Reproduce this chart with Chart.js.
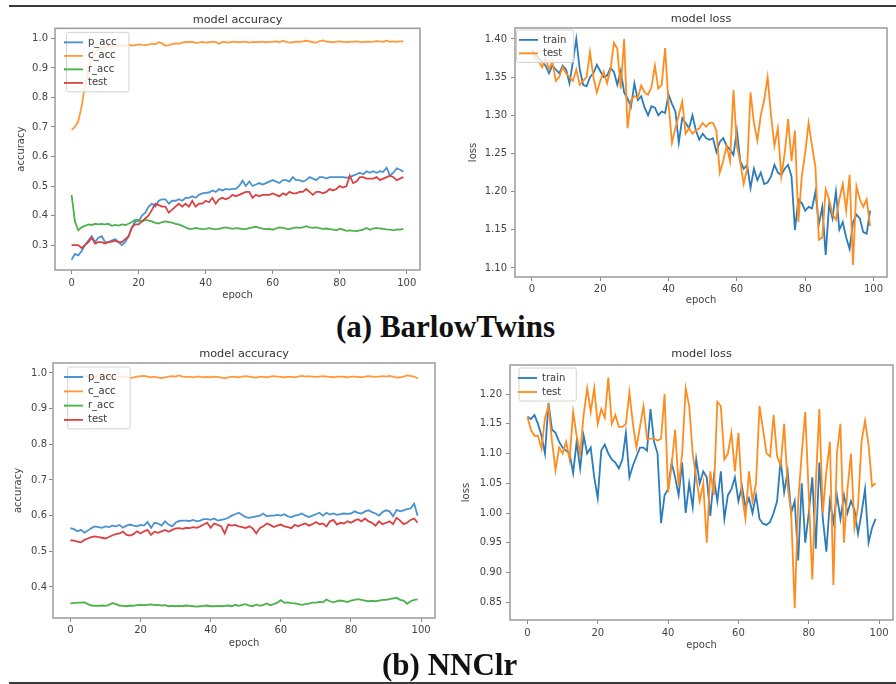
<!DOCTYPE html>
<html>
<head>
<meta charset="utf-8">
<script src="https://cdn.jsdelivr.net/npm/chart.js@4.4.1/dist/chart.umd.min.js"></script>
<style>
  body { margin: 0; background: #fff; }
  #page { position: relative; width: 896px; height: 684px; overflow: hidden; background: #fff; }
  canvas { position: absolute; }
  .rule { position: absolute; left: 9px; right: 0; height: 2px; background: #3a3a3a; }
  .caption { position: absolute; font-family: "Liberation Serif", "Times New Roman", serif; font-weight: bold;
             font-size: 31px; line-height: 31px; color: #111; white-space: nowrap; }
</style>
</head>
<body>
<div id="page">
  <div class="rule" style="top:5px"></div>
  <canvas id="btAcc" width="440" height="300" style="left:0;top:8px"></canvas>
  <canvas id="btLoss" width="446" height="300" style="left:450px;top:8px"></canvas>
  <div class="caption" style="left:336px;top:311px">(a) BarlowTwins</div>
  <canvas id="nnAcc" width="448" height="310" style="left:0;top:343px"></canvas>
  <canvas id="nnLoss" width="446" height="310" style="left:450px;top:345px"></canvas>
  <div class="caption" style="left:382px;top:649px">(b) NNClr</div>
  <div class="rule" style="top:682px"></div>
</div>
<script>
// epochs 0..99 and tick labels
var epochs = Array.from({length: 100}, function(_, i) { return i; });
var epochTicks = ['0', '20', '40', '60', '80', '100'];
var btAccTicks = ['0.3', '0.4', '0.5', '0.6', '0.7', '0.8', '0.9', '1.0'];
var btLossTicks = ['1.10', '1.15', '1.20', '1.25', '1.30', '1.35', '1.40'];
var nnAccTicks = ['0.4', '0.5', '0.6', '0.7', '0.8', '0.9', '1.0'];
var nnLossTicks = ['0.85', '0.90', '0.95', '1.00', '1.05', '1.10', '1.15', '1.20'];

// (a) BarlowTwins - accuracy
var btPAcc = [
  0.25, 0.27, 0.265, 0.28, 0.30, 0.315, 0.33, 0.31, 0.325, 0.33,
  0.31, 0.31, 0.315, 0.32, 0.31, 0.30, 0.31, 0.33, 0.36, 0.38,
  0.38, 0.40, 0.41, 0.43, 0.44, 0.43, 0.45, 0.455, 0.455, 0.44,
  0.45, 0.45, 0.455, 0.45, 0.46, 0.46, 0.465, 0.46, 0.47, 0.475,
  0.477, 0.478, 0.485, 0.48, 0.49, 0.485, 0.49, 0.488, 0.49, 0.49,
  0.50, 0.518, 0.50, 0.515, 0.50, 0.505, 0.51, 0.505, 0.51, 0.515,
  0.52, 0.515, 0.51, 0.52, 0.52, 0.515, 0.53, 0.52, 0.52, 0.515,
  0.52, 0.53, 0.525, 0.52, 0.53, 0.53, 0.525, 0.53, 0.53, 0.53,
  0.53, 0.53, 0.528, 0.53, 0.535, 0.54, 0.545, 0.54, 0.55, 0.545,
  0.55, 0.545, 0.55, 0.548, 0.562, 0.535, 0.545, 0.56, 0.555, 0.548
];
var btCAcc = [
  0.69, 0.70, 0.72, 0.77, 0.84, 0.89, 0.93, 0.95, 0.962, 0.968,
  0.972, 0.975, 0.973, 0.976, 0.975, 0.977, 0.975, 0.978, 0.976, 0.977,
  0.980, 0.978, 0.977, 0.979, 0.982, 0.980, 0.987, 0.983, 0.975, 0.977,
  0.981, 0.983, 0.982, 0.986, 0.988, 0.987, 0.989, 0.985, 0.986, 0.988,
  0.986, 0.987, 0.989, 0.987, 0.982, 0.988, 0.987, 0.986, 0.989, 0.988,
  0.987, 0.988, 0.989, 0.986, 0.988, 0.987, 0.988, 0.989, 0.987, 0.988,
  0.988, 0.990, 0.987, 0.992, 0.988, 0.986, 0.987, 0.989, 0.988, 0.990,
  0.992, 0.990, 0.987, 0.986, 0.991, 0.993, 0.989, 0.988, 0.987, 0.989,
  0.990, 0.988, 0.987, 0.988, 0.989, 0.990, 0.988, 0.987, 0.989, 0.988,
  0.989, 0.991, 0.990, 0.988, 0.993, 0.988, 0.990, 0.988, 0.990, 0.990
];
var btRAcc = [
  0.47, 0.38, 0.35, 0.36, 0.365, 0.37, 0.368, 0.372, 0.37, 0.372,
  0.37, 0.372, 0.365, 0.368, 0.366, 0.37, 0.368, 0.372, 0.378, 0.385,
  0.385, 0.38, 0.385, 0.383, 0.38, 0.375, 0.373, 0.378, 0.38, 0.378,
  0.376, 0.372, 0.37, 0.365, 0.36, 0.355, 0.355, 0.358, 0.356, 0.354,
  0.355, 0.357, 0.355, 0.353, 0.355, 0.358, 0.36, 0.357, 0.355, 0.357,
  0.356, 0.355, 0.354, 0.357, 0.36, 0.362, 0.358, 0.356, 0.354, 0.355,
  0.352, 0.356, 0.36, 0.358, 0.356, 0.354, 0.357, 0.36, 0.358, 0.36,
  0.364, 0.36, 0.358, 0.36, 0.357, 0.355, 0.356, 0.354, 0.352, 0.35,
  0.355, 0.352, 0.348, 0.35, 0.348, 0.347, 0.35, 0.352, 0.358, 0.352,
  0.356, 0.358, 0.356, 0.355, 0.353, 0.352, 0.35, 0.353, 0.352, 0.355
];
var btTestAcc = [
  0.30, 0.30, 0.30, 0.29, 0.30, 0.31, 0.325, 0.305, 0.31, 0.31,
  0.305, 0.31, 0.312, 0.315, 0.31, 0.31, 0.32, 0.33, 0.36, 0.37,
  0.37, 0.38, 0.39, 0.40, 0.42, 0.44, 0.435, 0.43, 0.43, 0.41,
  0.42, 0.43, 0.44, 0.43, 0.44, 0.43, 0.45, 0.43, 0.44, 0.44,
  0.45, 0.445, 0.46, 0.44, 0.455, 0.46, 0.455, 0.46, 0.47, 0.465,
  0.47, 0.475, 0.48, 0.48, 0.46, 0.47, 0.465, 0.47, 0.47, 0.47,
  0.475, 0.47, 0.465, 0.475, 0.47, 0.48, 0.475, 0.475, 0.48, 0.48,
  0.49, 0.48, 0.47, 0.48, 0.48, 0.475, 0.48, 0.49, 0.485, 0.49,
  0.50, 0.495, 0.50, 0.535, 0.51, 0.515, 0.53, 0.53, 0.525, 0.525,
  0.525, 0.53, 0.52, 0.525, 0.53, 0.535, 0.53, 0.52, 0.525, 0.53
];

// (a) BarlowTwins - loss
var btTrainLoss = [
  1.385, 1.38, 1.375, 1.37, 1.365, 1.355, 1.365, 1.36, 1.355, 1.365,
  1.36, 1.342, 1.37, 1.40, 1.36, 1.34, 1.338, 1.35, 1.355, 1.366,
  1.358, 1.35, 1.352, 1.362, 1.357, 1.34, 1.358, 1.33, 1.322, 1.311,
  1.342, 1.32, 1.325, 1.31, 1.30, 1.312, 1.31, 1.30, 1.305, 1.303,
  1.327, 1.315, 1.305, 1.264, 1.296, 1.29, 1.283, 1.30, 1.28, 1.268,
  1.276, 1.27, 1.268, 1.27, 1.252, 1.265, 1.27, 1.26, 1.255, 1.248,
  1.28, 1.24, 1.23, 1.235, 1.205, 1.23, 1.215, 1.225, 1.21, 1.212,
  1.22, 1.235, 1.225, 1.222, 1.23, 1.235, 1.22, 1.15, 1.19, 1.185,
  1.175, 1.18, 1.178, 1.20, 1.157, 1.18, 1.117, 1.183, 1.165, 1.20,
  1.15, 1.16, 1.14, 1.125, 1.16, 1.17, 1.165, 1.147, 1.145, 1.175
];
var btTestLoss = [
  1.38, 1.375, 1.37, 1.363, 1.375, 1.36, 1.37, 1.345, 1.35, 1.363,
  1.355, 1.35, 1.345, 1.36, 1.34, 1.345, 1.35, 1.383, 1.35, 1.33,
  1.345, 1.357, 1.342, 1.36, 1.395, 1.387, 1.335, 1.40, 1.283, 1.32,
  1.325, 1.323, 1.339, 1.33, 1.327, 1.337, 1.365, 1.335, 1.34, 1.388,
  1.315, 1.264, 1.283, 1.30, 1.318, 1.276, 1.283, 1.276, 1.28, 1.283,
  1.29, 1.285, 1.29, 1.29, 1.28, 1.225, 1.24, 1.26, 1.24, 1.333,
  1.26, 1.238, 1.21, 1.23, 1.33, 1.29, 1.267, 1.30, 1.32, 1.35,
  1.30, 1.26, 1.283, 1.22, 1.25, 1.295, 1.24, 1.28, 1.16, 1.22,
  1.25, 1.29, 1.26, 1.232, 1.137, 1.14, 1.203, 1.19, 1.17, 1.163,
  1.19, 1.21, 1.175, 1.222, 1.104, 1.207, 1.19, 1.18, 1.19, 1.155
];

// (b) NNClr - accuracy
var nnPAcc = [
  0.565, 0.562, 0.556, 0.56, 0.552, 0.558, 0.565, 0.57, 0.568, 0.566,
  0.57, 0.568, 0.572, 0.57, 0.574, 0.566, 0.572, 0.575, 0.572, 0.57,
  0.574, 0.572, 0.582, 0.566, 0.58, 0.578, 0.572, 0.584, 0.575, 0.57,
  0.58, 0.585, 0.586, 0.586, 0.585, 0.588, 0.584, 0.586, 0.59, 0.59,
  0.588, 0.592, 0.586, 0.588, 0.59, 0.594, 0.6, 0.604, 0.608, 0.602,
  0.596, 0.594, 0.596, 0.598, 0.6, 0.606, 0.598, 0.6, 0.6, 0.602,
  0.6, 0.604, 0.598, 0.596, 0.6, 0.602, 0.606, 0.6, 0.596, 0.6,
  0.604, 0.608, 0.6, 0.608, 0.603, 0.606, 0.602, 0.604, 0.606, 0.605,
  0.606, 0.612, 0.608, 0.606, 0.612, 0.615, 0.61, 0.606, 0.6, 0.61,
  0.615, 0.612, 0.598, 0.616, 0.612, 0.615, 0.618, 0.62, 0.634, 0.6
];
var nnCAcc = [
  0.99, 0.99, 0.988, 0.99, 0.992, 0.99, 0.989, 0.99, 0.991, 0.99,
  0.989, 0.99, 0.991, 0.99, 0.988, 0.99, 0.99, 0.986, 0.988, 0.99,
  0.991, 0.992, 0.99, 0.988, 0.99, 0.987, 0.986, 0.988, 0.99, 0.991,
  0.99, 0.993, 0.99, 0.989, 0.99, 0.988, 0.99, 0.99, 0.988, 0.989,
  0.988, 0.99, 0.989, 0.987, 0.985, 0.988, 0.99, 0.989, 0.988, 0.99,
  0.991, 0.99, 0.988, 0.987, 0.99, 0.989, 0.988, 0.99, 0.991, 0.99,
  0.989, 0.988, 0.99, 0.989, 0.988, 0.99, 0.992, 0.99, 0.991, 0.99,
  0.989, 0.99, 0.991, 0.99, 0.989, 0.988, 0.99, 0.99, 0.989, 0.988,
  0.99, 0.99, 0.989, 0.988, 0.99, 0.991, 0.99, 0.989, 0.99, 0.991,
  0.99, 0.992, 0.99, 0.987, 0.988, 0.99, 0.993, 0.992, 0.99, 0.985
];
var nnRAcc = [
  0.354, 0.355, 0.356, 0.356, 0.357, 0.352, 0.348, 0.347, 0.347, 0.348,
  0.347, 0.35, 0.355, 0.352, 0.348, 0.347, 0.346, 0.348, 0.347, 0.349,
  0.35, 0.349, 0.35, 0.351, 0.349, 0.35, 0.348, 0.349, 0.346, 0.347,
  0.346, 0.347, 0.346, 0.348, 0.347, 0.346, 0.345, 0.346, 0.347, 0.348,
  0.346, 0.346, 0.347, 0.346, 0.347, 0.348, 0.346, 0.35, 0.347, 0.35,
  0.352, 0.348, 0.346, 0.351, 0.347, 0.35, 0.354, 0.349, 0.352, 0.356,
  0.363, 0.356, 0.357, 0.355, 0.354, 0.352, 0.35, 0.352, 0.353, 0.356,
  0.356, 0.358, 0.357, 0.365, 0.36, 0.357, 0.36, 0.362, 0.36, 0.358,
  0.362, 0.364, 0.366, 0.364, 0.362, 0.36, 0.361, 0.36, 0.362, 0.364,
  0.364, 0.366, 0.368, 0.37, 0.364, 0.362, 0.353, 0.36, 0.364, 0.365
];
var nnTestAcc = [
  0.531, 0.53, 0.527, 0.525, 0.532, 0.536, 0.54, 0.542, 0.54, 0.538,
  0.536, 0.54, 0.545, 0.548, 0.55, 0.555, 0.546, 0.544, 0.548, 0.556,
  0.55, 0.556, 0.56, 0.546, 0.555, 0.552, 0.556, 0.56, 0.555, 0.56,
  0.564, 0.565, 0.563, 0.566, 0.565, 0.568, 0.566, 0.57, 0.575, 0.58,
  0.566, 0.578, 0.574, 0.57, 0.55, 0.575, 0.572, 0.574, 0.57, 0.568,
  0.565, 0.57, 0.564, 0.55, 0.565, 0.57, 0.578, 0.574, 0.568, 0.572,
  0.575, 0.57, 0.568, 0.565, 0.574, 0.57, 0.575, 0.578, 0.572, 0.576,
  0.582, 0.576, 0.578, 0.57, 0.584, 0.588, 0.575, 0.58, 0.578, 0.584,
  0.58, 0.586, 0.59, 0.584, 0.592, 0.584, 0.58, 0.572, 0.584, 0.576,
  0.58, 0.584, 0.576, 0.594, 0.586, 0.576, 0.58, 0.588, 0.592, 0.58
];

// (b) NNClr - loss
var nnTrainLoss = [
  1.162, 1.158, 1.165, 1.15, 1.13, 1.10, 1.185, 1.14, 1.135, 1.12,
  1.11, 1.105, 1.10, 1.067, 1.12, 1.075, 1.13, 1.10, 1.11, 1.06,
  1.025, 1.105, 1.115, 1.10, 1.09, 1.085, 1.075, 1.09, 1.135, 1.06,
  1.08, 1.095, 1.11, 1.11, 1.105, 1.175, 1.12, 1.10, 0.983, 1.03,
  1.04, 1.085, 1.06, 1.03, 1.085, 1.0, 1.05, 1.01, 1.09, 1.05,
  1.07, 1.06, 0.995, 1.06, 1.02, 1.07, 0.99, 1.03, 1.04, 1.06,
  1.02, 1.045, 1.01, 1.025, 1.0, 1.03, 0.99, 0.982, 0.98, 0.985,
  1.0, 1.02, 1.09, 1.035, 1.07, 1.0, 1.02, 0.92, 1.05, 0.95,
  1.0, 1.06, 0.94, 1.085, 0.99, 0.935, 1.02, 0.985, 1.03, 0.99,
  1.03, 1.0, 1.02, 1.005, 0.965, 1.0, 1.04, 0.95, 0.975, 0.99
];
var nnTestLoss = [
  1.162, 1.14, 1.13, 1.13, 1.108, 1.16, 1.18, 1.12, 1.072, 1.11,
  1.10, 1.12, 1.09, 1.17, 1.13, 1.10, 1.165, 1.21, 1.17, 1.21,
  1.15, 1.175, 1.16, 1.228, 1.15, 1.165, 1.145, 1.145, 1.15, 1.203,
  1.15, 1.11, 1.145, 1.18, 1.125, 1.125, 1.125, 1.122, 1.125, 1.20,
  1.035, 1.08, 1.14, 1.045, 1.10, 1.21, 1.18, 1.10, 1.06, 1.02,
  1.05, 0.95, 1.07, 1.03, 1.187, 1.18, 1.09, 1.10, 1.135, 1.07,
  1.135, 1.03, 0.99, 1.07, 1.02, 1.05, 1.18, 1.14, 1.10, 1.095,
  1.165, 1.095, 1.08, 1.15, 1.045, 1.0, 0.84, 1.02, 1.10, 1.17,
  1.03, 0.888, 1.05, 1.175, 1.0, 1.07, 1.12, 0.879, 1.10, 1.15,
  0.95, 1.04, 1.10, 0.975, 1.01, 1.12, 1.155, 1.115, 1.045, 1.05
];

var FONT = 'DejaVu Sans';

function toPoints(values) {
  return values.map(function(v, i) { return {x: epochs[i], y: v}; });
}

// box around the axes + matplotlib style legend frame drawn above the lines
var framePlugin = {
  id: 'frame',
  afterLayout: function(chart, args, opts) {
    // the legend sits in the chart area, offset from its top-left corner
    var lg = chart.legend, a = chart.chartArea;
    var sx = a.left + opts.dx - lg.left, sy = a.top + opts.dy - lg.top;
    lg.left += sx; lg.right += sx;
    lg.top += sy; lg.bottom += sy;
    lg.legendHitBoxes.forEach(function(h) { h.left += sx; h.top += sy; });
  },
  afterDatasetsDraw: function(chart, args, opts) {
    var ctx = chart.ctx, a = chart.chartArea;
    ctx.save();
    ctx.strokeStyle = '#9a9a9a';
    ctx.lineWidth = 1.5;
    ctx.strokeRect(a.left, a.top, a.right - a.left, a.bottom - a.top);
    var hb = chart.legend.legendHitBoxes;
    var l = Math.min.apply(null, hb.map(function(h) { return h.left; })) - 3;
    var t = Math.min.apply(null, hb.map(function(h) { return h.top; })) - 5;
    var r = Math.max.apply(null, hb.map(function(h) { return h.left + h.width; })) + 7;
    var b = Math.max.apply(null, hb.map(function(h) { return h.top + h.height; })) + 4;
    ctx.fillStyle = 'rgba(255,255,255,0.8)';
    ctx.strokeStyle = '#d2d2d2';
    ctx.lineWidth = 1;
    ctx.beginPath();
    ctx.roundRect(l, t, r - l, b - t, 2);
    ctx.fill();
    ctx.stroke();
    ctx.restore();
    chart.legend.draw();
  }
};

function makeAxis(min, max, labels, title, size, tickPad, titlePad, horizontal) {
  return {
    type: 'linear',
    min: min,
    max: max,
    afterBuildTicks: function(scale) {
      scale.ticks = labels.map(function(l) { return {value: parseFloat(l)}; });
    },
    afterFit: function(scale) {
      if (horizontal) scale.height = size; else scale.width = size;
    },
    ticks: {
      autoSkip: false,
      maxRotation: 0,
      padding: tickPad,
      color: '#444',
      font: {family: FONT, size: 10},
      callback: function(value, index) { return labels[index]; }
    },
    grid: {display: true, drawOnChartArea: false, drawTicks: true, tickLength: 4, color: '#8a8a8a', lineWidth: 1},
    border: {display: false},
    title: {display: true, text: title, color: '#444', font: {family: FONT, size: 10}, padding: titlePad}
  };
}

function makeChart(id, s) {
  var datasets = s.series.map(function(ser, i) {
    return {
      label: ser.label,
      data: toPoints(ser.values),
      borderColor: ser.color,
      backgroundColor: ser.color,
      borderWidth: 1.8,
      pointRadius: 0,
      tension: 0,
      fill: false,
      order: s.series.length - i
    };
  });
  return new Chart(document.getElementById(id).getContext('2d'), {
    type: 'line',
    data: {datasets: datasets},
    options: {
      responsive: false,
      animation: false,
      devicePixelRatio: 1,
      layout: {padding: {left: 0, right: s.padRight, top: 0, bottom: 0}},
      scales: {
        x: makeAxis(-4.95, 103.95, epochTicks, 'epoch', s.xHeight, s.xTickPad, {top: 0, bottom: s.xTitlePad}, true),
        y: makeAxis(s.yMin, s.yMax, s.yTicks, s.yTitle, s.yWidth, s.yTickPad, {top: s.yTitlePad, bottom: 0}, false)
      },
      plugins: {
        title: {
          display: true, text: s.title, fullSize: false, color: '#333',
          font: {family: FONT, size: 11.3, weight: 'normal'},
          padding: s.titlePad
        },
        legend: {
          position: 'chartArea',
          align: 'start',
          labels: {
            usePointStyle: true, pointStyle: 'line', pointStyleWidth: 19,
            padding: s.legendPad, color: '#444', font: {family: FONT, size: 10},
            sort: function(a, b) { return a.datasetIndex - b.datasetIndex; }
          }
        },
        tooltip: {enabled: false},
        frame: {dx: s.dx, dy: s.dy}
      }
    },
    plugins: [framePlugin]
  });
}

var accColors = ['#4a92d0', '#ff9a3c', '#4cb24c', '#da4242'];
var lossColors = ['#2b7cbb', '#ff8c1e'];

makeChart('btAcc', {
  title: 'model accuracy', yTitle: 'accuracy', yMin: 0.2155, yMax: 1.034, yTicks: btAccTicks,
  series: [
    {label: 'p_acc', values: btPAcc, color: accColors[0]},
    {label: 'c_acc', values: btCAcc, color: accColors[1]},
    {label: 'r_acc', values: btRAcc, color: accColors[2]},
    {label: 'test', values: btTestAcc, color: accColors[3]}
  ],
  yWidth: 55, xHeight: 38, padRight: 20,
  titlePad: {top: 4.8, bottom: 2}, yTitlePad: 15.7, xTitlePad: 7, yTickPad: 3, xTickPad: 3,
  legendPad: 3.5, dx: 5.5, dy: 5.5
});

makeChart('btLoss', {
  title: 'model loss', yTitle: 'loss', yMin: 1.0882, yMax: 1.4144, yTicks: btLossTicks,
  series: [
    {label: 'train', values: btTrainLoss, color: lossColors[0]},
    {label: 'test', values: btTestLoss, color: lossColors[1]}
  ],
  yWidth: 65, xHeight: 31, padRight: 9,
  titlePad: {top: 4, bottom: 2.4}, yTitlePad: 17, xTitlePad: 2, yTickPad: 4, xTickPad: 2,
  legendPad: 3.5, dx: 0.5, dy: 3.5
});

makeChart('nnAcc', {
  title: 'model accuracy', yTitle: 'accuracy', yMin: 0.313, yMax: 1.028, yTicks: nnAccTicks,
  series: [
    {label: 'p_acc', values: nnPAcc, color: accColors[0]},
    {label: 'c_acc', values: nnCAcc, color: accColors[1]},
    {label: 'r_acc', values: nnRAcc, color: accColors[2]},
    {label: 'test', values: nnTestAcc, color: accColors[3]}
  ],
  yWidth: 53, xHeight: 35, padRight: 13,
  titlePad: {top: 3.8, bottom: 2.64}, yTitlePad: 12, xTitlePad: 4, yTickPad: 2, xTickPad: 2,
  legendPad: 4.3, dx: 6.7, dy: 4.7
});

makeChart('nnLoss', {
  title: 'model loss', yTitle: 'loss', yMin: 0.82, yMax: 1.249, yTicks: nnLossTicks,
  series: [
    {label: 'train', values: nnTrainLoss, color: lossColors[0]},
    {label: 'test', values: nnTestLoss, color: lossColors[1]}
  ],
  yWidth: 60, xHeight: 35, padRight: 3,
  titlePad: {top: 2.2, bottom: 4.24}, yTitlePad: 10, xTitlePad: 4, yTickPad: 4, xTickPad: 3,
  legendPad: 4, dx: 4, dy: 4
});
</script>
</body>
</html>
